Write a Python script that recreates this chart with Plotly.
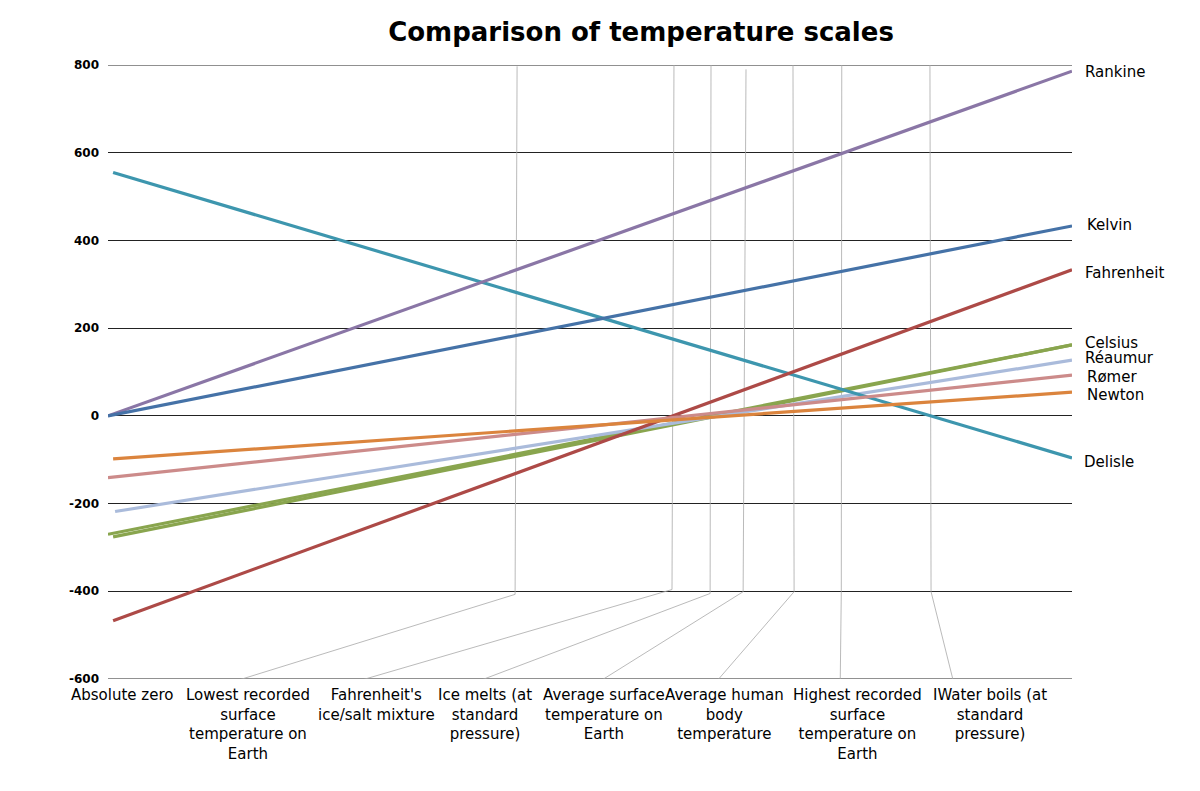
import plotly.graph_objects as go

# temperature scales, values read at the left start and right end of each line
scale_names = ["Rankine", "Kelvin", "Fahrenheit", "Celsius", "Réaumur", "Rømer", "Newton", "Delisle"]
scale_colors = ["#8a76a6", "#4572a7", "#ad4a47", "#89a54e", "#aabbdb", "#cc8b8a", "#db843d", "#3d96ae"]
start_k = [0, 0, 2.3, 0, 3.2, 0, 2.3, 2.3]
start_val = [0, 0, -467, -270, -218, -141, -98, 555]
end_k = [435, 435, 435, 435, 435, 435, 435, 435]
end_val = [786, 433, 333, 162, 127, 93, 54, -96]
# the Celsius line is drawn twice, slightly offset at the start
celsius2_k = [2.3, 435]
celsius2_val = [-276, 162]

# reference temperatures (Kelvin) and their labels
event_labels = [
    "Absolute zero",
    "Lowest recorded<br>surface<br>temperature on<br>Earth",
    "Fahrenheit's<br>ice/salt mixture",
    "Ice melts (at<br>standard<br>pressure)",
    "Average surface<br>temperature on<br>Earth",
    "Average human<br>body<br>temperature",
    "Highest recorded<br>surface<br>temperature on<br>Earth",
    "IWater boils (at<br>standard<br>pressure)",
]
event_k = [0, 184.6, 255.4, 272.1, 287.9, 309.1, 331.1, 370.9]

y_ticks = [800, 600, 400, 200, 0, -200, -400, -600]

# layout helpers (label placement)
label_center_k = [6.3, 63, 121, 170, 224, 278, 338, 398]
leader_top = [797, 808, 800, 790, 800, 800, 802]
leader_bend_k = [183.7, 254.5, 271.7, 286.6, 309.6, 330.9, 371.4]
leader_bend_v = [-407, -396, -405, -401, -401, -400, -401]
leader_foot_k = [52.8, 107.9, 163.4, 219.8, 273.5, 330.4, 381.8]
name_label_y = [785, 435, 326, 166, 131, 88, 47, -105]
name_label_shift = [12, 14, 12, 12, 12, 14, 14, 11]

fig = go.Figure()

# thin grey leader lines from each reference temperature to its label
for i in range(1, len(event_k)):
    j = i - 1
    fig.add_trace(go.Scatter(
        x=[event_k[i], leader_bend_k[j], leader_foot_k[j]],
        y=[leader_top[j], leader_bend_v[j], -612],
        mode="lines",
        line=dict(color="#a8a8a8", width=0.8),
        hoverinfo="skip",
        showlegend=False,
    ))

draw_order = [3, 4, 7, 0, 1, 2, 5, 6]
for i in draw_order:
    if scale_names[i] == "Celsius":
        fig.add_trace(go.Scatter(
            x=celsius2_k, y=celsius2_val, mode="lines",
            line=dict(color=scale_colors[i], width=3.2),
            showlegend=False, hoverinfo="skip",
        ))
    fig.add_trace(go.Scatter(
        x=[start_k[i], end_k[i]],
        y=[start_val[i], end_val[i]],
        mode="lines",
        name=scale_names[i],
        line=dict(color=scale_colors[i], width=3.2),
        showlegend=False,
    ))

annotations = []
for i, name in enumerate(scale_names):
    annotations.append(dict(
        x=end_k[i], y=name_label_y[i], xref="x", yref="y",
        text=name, showarrow=False, xanchor="left", yanchor="middle",
        xshift=name_label_shift[i], borderpad=0,
        font=dict(family="DejaVu Sans", size=15, color="#000"),
    ))

for i, lab in enumerate(event_labels):
    annotations.append(dict(
        x=label_center_k[i], y=-600, xref="x", yref="y",
        text=lab, showarrow=False, xanchor="center", yanchor="top",
        yshift=-5, align="center",
        font=dict(family="DejaVu Sans", size=15, color="#000"),
    ))

fig.update_layout(
    width=1200,
    height=791,
    paper_bgcolor="white",
    plot_bgcolor="white",
    margin=dict(l=108, r=128, t=65, b=112),
    title=dict(
        text="<b>Comparison of temperature scales</b>",
        x=641 / 1200, xref="container", xanchor="center",
        y=1 - 32 / 791, yref="container", yanchor="middle",
        font=dict(family="DejaVu Sans", size=26, color="#000"),
    ),
    annotations=annotations,
)
fig.update_xaxes(
    range=[0, 435], showgrid=False, zeroline=False,
    showticklabels=False, showline=False, ticks="",
)
fig.update_yaxes(
    range=[-600, 800], tickvals=y_ticks,
    ticktext=[f"<b>{v}</b>" for v in y_ticks],
    showgrid=True, gridcolor="#222", gridwidth=1,
    zeroline=True, zerolinecolor="#222", zerolinewidth=1,
    showline=False, ticks="", ticklabelstandoff=8,
    tickfont=dict(family="DejaVu Sans", size=12, color="#000"),
)
# grid lines at the edges of the range are not drawn by plotly
for v in (y_ticks[0], y_ticks[-1]):
    fig.add_hline(y=v, line=dict(color="#222", width=1), layer="below")

fig.write_html(
    "out.html",
    config={"displayModeBar": False},
    post_script="document.body.style.margin='0';",
)
